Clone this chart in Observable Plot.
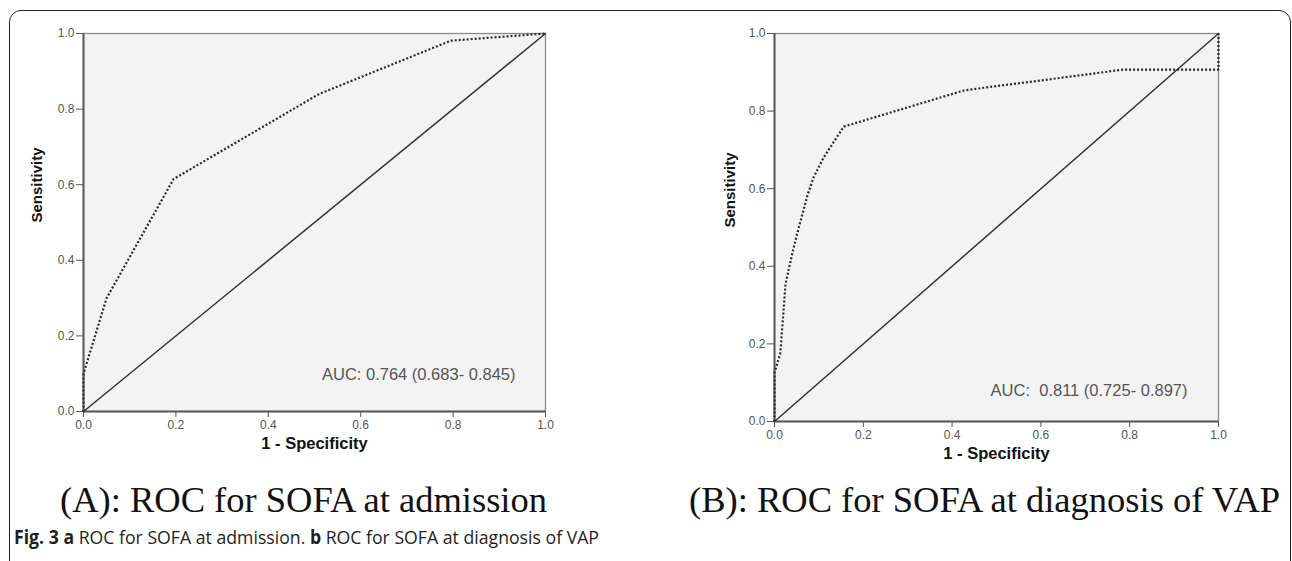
<!DOCTYPE html>
<html>
<head>
<meta charset="utf-8">
<script src="https://cdn.jsdelivr.net/npm/d3@7"></script>
<script src="https://cdn.jsdelivr.net/npm/@observablehq/plot@0.6"></script>
<style>
  html, body { margin: 0; padding: 0; background: #fff; }
  #root { position: relative; width: 1292px; height: 561px; overflow: hidden; background: #fff; }
  .border { position: absolute; left: 9px; top: 10px; width: 1282px; height: 700px; box-sizing: border-box;
            border: 1.6px solid #222; border-radius: 12px; }
  .panel { position: absolute; top: 0; }
  .cap { position: absolute; font-family: "Liberation Serif", "Times New Roman", serif; font-size: 36.5px;
         line-height: 36.5px; color: #111; white-space: pre; }
  .fig { position: absolute; left: 14px; font-family: "Open Sans", "Noto Sans", sans-serif; font-size: 19px;
         line-height: 19px; color: #231f20; white-space: pre; transform: scaleX(0.93); transform-origin: 0 0; }
  .fig b { font-weight: 700; }
</style>
</head>
<body>
<div id="root">
  <div class="border"></div>
  <div id="panelA" class="panel" style="left:0px"></div>
  <div id="panelB" class="panel" style="left:640px"></div>
  <div class="cap" style="left:60px; top:482px">(A): ROC for SOFA at admission</div>
  <div class="cap" style="left:689px; top:482px">(B): ROC for SOFA at diagnosis of VAP</div>
  <div class="fig" style="top:528px"><b>Fig. 3 a</b> ROC for SOFA at admission. <b>b</b> ROC for SOFA at diagnosis of VAP</div>
</div>
<script>
// ---- data ----
const ticks = [0, 0.2, 0.4, 0.6, 0.8, 1.0];
const tickLabels = ["0.0", "0.2", "0.4", "0.6", "0.8", "1.0"];
const xLabel = "1 - Specificity";
const yLabel = "Sensitivity";

const refFpr = [0, 1];
const refTpr = [0, 1];

const rocAFpr = [0, 0, 0.05, 0.195, 0.51, 0.795, 1.0];
const rocATpr = [0, 0.10, 0.30, 0.615, 0.84, 0.981, 1.0];
const aucA = "AUC: 0.764 (0.683- 0.845)";

const rocBFpr = [0, 0, 0.013, 0.025, 0.040, 0.051, 0.059, 0.074, 0.088, 0.111, 0.156, 0.426, 0.509, 0.6, 0.786, 1.0, 1.0];
const rocBTpr = [0, 0.126, 0.175, 0.356, 0.433, 0.484, 0.518, 0.582, 0.629, 0.681, 0.760, 0.853, 0.866, 0.879, 0.907, 0.907, 1.0];
const aucB = "AUC:  0.811 (0.725- 0.897)";

const toPts = (xs, ys) => xs.map((x, i) => ({x, y: ys[i]}));

function rocPlot(o) {
  const fmt = d => tickLabels[ticks.findIndex(t => Math.abs(t - d) < 1e-9)];
  return Plot.plot({
    width: o.width, height: o.height,
    marginLeft: o.ml, marginRight: o.mr, marginTop: o.mt, marginBottom: o.mb,
    x: {domain: [0, 1]},
    y: {domain: [0, 1]},
    style: {background: "transparent", color: "#555", fontFamily: "'Liberation Sans', Arial, sans-serif", overflow: "visible"},
    marks: [
      Plot.frame({fill: "#f3f3f3", stroke: "#8a8a8a", strokeWidth: 1.3}),
      Plot.ruleX([0], {stroke: "#5a5a5a", strokeWidth: 2}),
      Plot.ruleY([0], {stroke: "#5a5a5a", strokeWidth: 2}),
      Plot.axisX(ticks, {tickFormat: fmt, tickSize: 6, tickPadding: 3, fontSize: 12, stroke: "#555", fill: "#555", label: null}),
      Plot.axisY(ticks, {tickFormat: fmt, tickSize: 7, tickPadding: 2, fontSize: 12, stroke: "#555", fill: "#555", label: null}),
      Plot.line(toPts(refFpr, refTpr), {x: "x", y: "y", stroke: "#333", strokeWidth: 1.5}),
      Plot.line(o.curve, {x: "x", y: "y", stroke: "#2a2a2a", strokeWidth: 2.2, strokeDasharray: "2,2", strokeLinecap: "butt"}),
      Plot.text([xLabel], {frameAnchor: "bottom", dy: o.xdy, fontWeight: "bold", fontSize: 16.5, fill: "#111"}),
      Plot.text([yLabel], {frameAnchor: "left", dx: o.ydx, rotate: -90, fontWeight: "bold", fontSize: 15, fill: "#111"}),
      Plot.text([o.auc], {frameAnchor: "bottom-right", textAnchor: "end", dx: o.adx, dy: o.ady, fontSize: 16.5, fill: "#555"})
    ]
  });
}

document.getElementById("panelA").appendChild(rocPlot({
  width: 600, height: 470, ml: 83, mr: 55, mt: 33, mb: 59,
  curve: toPts(rocAFpr, rocATpr), auc: aucA,
  xdy: 37, ydx: -46, adx: -30, ady: -32
}));
document.getElementById("panelB").appendChild(rocPlot({
  width: 640, height: 470, ml: 134, mr: 62, mt: 33, mb: 49,
  curve: toPts(rocBFpr, rocBTpr), auc: aucB,
  xdy: 37, ydx: -44, adx: -31, ady: -26
}));
</script>
</body>
</html>
